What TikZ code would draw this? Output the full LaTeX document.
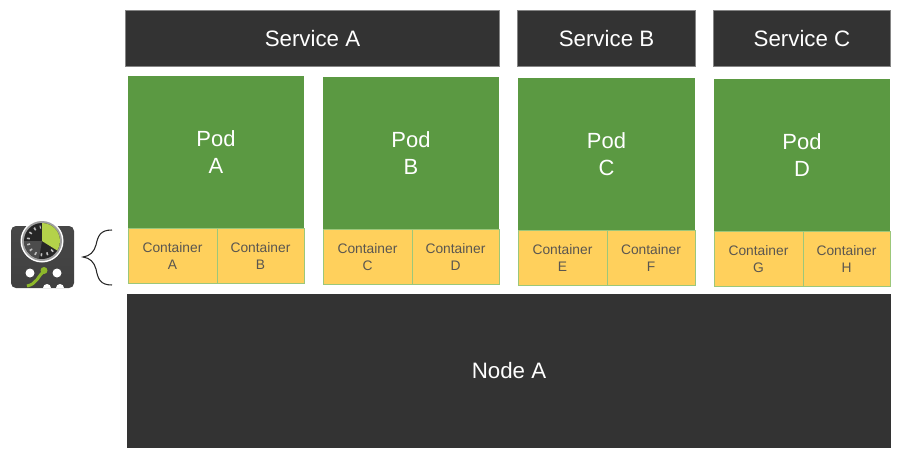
\documentclass[tikz,border=0pt]{standalone}
\usepackage{fontspec}
\setmainfont{Liberation Sans}
\definecolor{darkbox}{HTML}{333333}
\definecolor{podgreen}{HTML}{5B9942}
\definecolor{contyellow}{HTML}{FFD05C}
\definecolor{contline}{HTML}{9CC77A}
\definecolor{conttext}{HTML}{5A5650}
\definecolor{icongreen}{HTML}{8DB82A}
\definecolor{wedgegreen}{HTML}{B4D24A}
\tikzset{
    servicebox/.style={draw=darkbox!60!white, line width=0.3pt, fill=darkbox, text=white, font=\fontsize{12.7}{15}\selectfont, inner sep=0pt, minimum height=1.12cm},
    podbox/.style={fill=podgreen, text=white, font=\fontsize{12.5}{15.6}\selectfont, align=center, inner sep=0pt, minimum width=3.53cm, minimum height=3.04cm, execute at begin node={\rule{0pt}{13.1pt}}},
    contbox/.style={draw=contline, line width=0.5pt, fill=contyellow, text=conttext, font=\fontsize{7.85}{9.5}\selectfont, align=center, inner sep=0pt, minimum height=1.1cm, execute at begin node={\rule{0pt}{7.2pt}}},
}
\begin{document}
\begin{tikzpicture}[x=0.02cm, y=-0.02cm]
        \useasboundingbox (0,0) rectangle (902,456);

        \node[servicebox, minimum width=7.48cm] (svcA) at (312.5, 38.5) {Service A};
        \node[servicebox, minimum width=3.56cm] (svcB) at (606.5, 38.5) {Service B};
        \node[servicebox, minimum width=3.54cm] (svcC) at (802, 38.5) {Service C};

        \node[podbox] (podA) at (216, 152) {Pod\\A};
        \node[podbox] (podB) at (411, 153) {Pod\\B};
        \node[podbox] (podC) at (606.5, 154) {Pod\\C};
        \node[podbox] (podD) at (802, 155) {Pod\\D};

        \node[contbox, minimum width=1.78cm] (contA) at (172.5, 256) {Container\\A};
        \node[contbox, minimum width=1.74cm] (contB) at (260.5, 256) {Container\\B};
        \node[contbox, minimum width=1.78cm] (contC) at (367.5, 257) {Container\\C};
        \node[contbox, minimum width=1.74cm] (contD) at (455.5, 257) {Container\\D};
        \node[contbox, minimum width=1.78cm] (contE) at (562.5, 258) {Container\\E};
        \node[contbox, minimum width=1.76cm] (contF) at (651, 258) {Container\\F};
        \node[contbox, minimum width=1.78cm] (contG) at (758.5, 259) {Container\\G};
        \node[contbox, minimum width=1.74cm] (contH) at (846.5, 259) {Container\\H};

        \node[fill=darkbox, text=white, font=\fontsize{12.7}{15}\selectfont, inner sep=0pt, minimum width=15.28cm, minimum height=3.08cm] (nodeA) at (509, 371) {Node A};

        % brace
        \draw[line width=0.6pt, black!85] (112,230) .. controls (100,230) and (98,236) .. (96,245)
            .. controls (94,252) and (90,256) .. (83,257)
            .. controls (90,258) and (94,262) .. (96,269)
            .. controls (98,279) and (100,285) .. (112,285);

        % icon
        \shade[top color=black!72, middle color=black!92, bottom color=black!75, rounded corners=2.8pt] (11,226) rectangle (74,288);
        \fill[white] (42,241) circle (21.5);
        \fill[black!38] (42,241) circle (20);
        \fill[black!85] (42,241) circle (18);
        \fill[black!70] (42,241) -- (24,241) arc (180:100:18) -- cycle;
        \fill[wedgegreen] (42,241) -- (42,223) arc (-90:32:18) -- cycle;
        \draw[black!25, line width=1.7pt, dash pattern=on 0.9pt off 2.5pt] (42,241) ++(40:14) arc (40:265:14);
        \fill[white] (30,273) circle (4.5);
        \fill[white] (57,273) circle (4.5);
        \fill[white] (43,288) arc (180:360:4) -- cycle;
        \fill[white] (56,288) arc (180:360:4) -- cycle;
        \draw[icongreen, line width=1.7pt] (27,286) .. controls (37,284) and (38,276) .. (44,271);
        \fill[icongreen] (44,270.5) circle (3.5);
\end{tikzpicture}
\end{document}
